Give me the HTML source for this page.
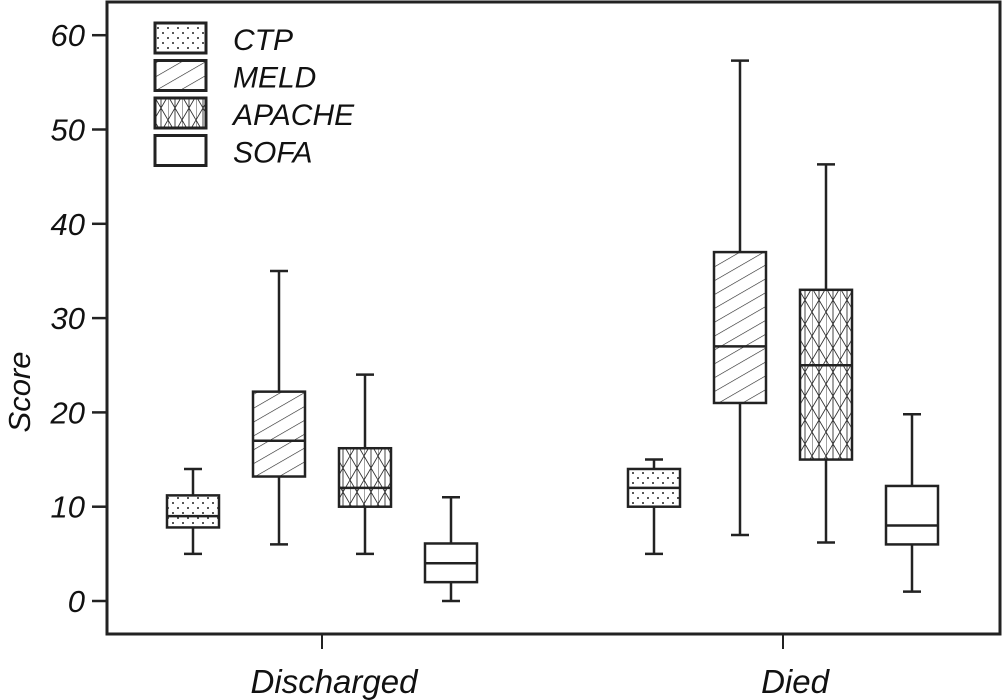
<!DOCTYPE html>
<html><head><meta charset="utf-8"><style>
html,body{margin:0;padding:0;background:#fff}
svg{display:block}
text{font-family:"Liberation Sans",sans-serif;font-style:italic;fill:#111}
</style></head><body>
<svg id="chart" width="1002" height="700" xmlns="http://www.w3.org/2000/svg">
<defs>
<pattern id="pDots" width="10" height="10" patternUnits="userSpaceOnUse"><rect width="10" height="10" fill="#fff"/><circle cx="3" cy="3" r="1" fill="#222"/><circle cx="8" cy="8" r="1" fill="#222"/></pattern>
<pattern id="pDiag" width="12" height="12" patternUnits="userSpaceOnUse" patternTransform="rotate(-30)"><rect width="12" height="12" fill="#fff"/><line x1="0" y1="0" x2="12" y2="0" stroke="#222" stroke-width="1.2"/></pattern>
<pattern id="pCross" width="14" height="24" patternUnits="userSpaceOnUse"><rect width="14" height="24" fill="#fff"/><path d="M0 0L14 24M14 0L0 24M7 0V24M0 0V24" stroke="#333" stroke-width="0.9" fill="none"/></pattern>
</defs>
<g id="plot"></g>
</svg>
<script>
const groups = ["Discharged","Died"];
const series = ["CTP","MELD","APACHE","SOFA"];
const whiskerLow  = [[5,6,5,0],[5,7,6.2,1]];
const q1          = [[7.8,13.2,10,2],[10,21,15,6]];
const medians     = [[9,17,12,4],[12,27,25,8]];
const q3          = [[11.2,22.2,16.2,6.1],[14,37,33,12.2]];
const whiskerHigh = [[14,35,24,11],[15,57.3,46.3,19.8]];
const yTicks = [0,10,20,30,40,50,60];

const NS="http://www.w3.org/2000/svg";
const fills=["url(#pDots)","url(#pDiag)","url(#pCross)","#fff"];
const L=107,R=1000,T=2,B=634;
function y(v){return 601 - v*9.43;}
const groupCenters=[322,783];
function x(g,s){return groupCenters[g] + (s-1.5)*86;}
const g=document.getElementById('plot');
function mk(tag,attrs,parent){const e=document.createElementNS(NS,tag);for(const k in attrs)e.setAttribute(k,attrs[k]);(parent||g).appendChild(e);return e;}

const frame=mk('rect',{x:L,y:T,width:R-L,height:B-T,fill:'none',stroke:'#222','stroke-width':3});



yTicks.forEach(v=>{
  const t=mk('line',{x1:92,x2:L,y1:y(v),y2:y(v),stroke:'#222','stroke-width':2.5});
  
  
  const lb=mk('text',{x:85,y:y(v)+11,'text-anchor':'end','font-size':31});
  lb.textContent=v;
  
  
});
const yt=mk('text',{x:0,y:0,'font-size':31,'text-anchor':'middle',transform:'translate(30,392) rotate(-90)'});
yt.textContent='Score';



groups.forEach((name,gi)=>{
  const cx=groupCenters[gi];
  const t=mk('line',{x1:cx,x2:cx,y1:B,y2:649,stroke:'#222','stroke-width':2});
  
  
  const lb=mk('text',{x:cx+12,y:693,'text-anchor':'middle','font-size':33});
  lb.textContent=name;
  
  
  series.forEach((s,si)=>{
    const bx=x(gi,si),w=52;
    const bg=mk('g',{});
    
    
    const st={stroke:'#222','stroke-width':2.5};
    mk('line',Object.assign({x1:bx,x2:bx,y1:y(whiskerHigh[gi][si]),y2:y(q3[gi][si])},st),bg);
    mk('line',Object.assign({x1:bx,x2:bx,y1:y(q1[gi][si]),y2:y(whiskerLow[gi][si])},st),bg);
    mk('line',Object.assign({x1:bx-9,x2:bx+9,y1:y(whiskerHigh[gi][si]),y2:y(whiskerHigh[gi][si])},st),bg);
    mk('line',Object.assign({x1:bx-9,x2:bx+9,y1:y(whiskerLow[gi][si]),y2:y(whiskerLow[gi][si])},st),bg);
    mk('rect',Object.assign({x:bx-w/2,y:y(q3[gi][si]),width:w,height:y(q1[gi][si])-y(q3[gi][si]),fill:fills[si]},st),bg);
    mk('line',Object.assign({x1:bx-w/2,x2:bx+w/2,y1:y(medians[gi][si]),y2:y(medians[gi][si])},st),bg);
  });
});

series.forEach((s,si)=>{
  const ly=23+si*37.5;
  const lg=mk('g',{});
  
  
  mk('rect',{x:155,y:ly,width:51,height:30,fill:fills[si],stroke:'#222','stroke-width':3},lg);
  const tx=mk('text',{x:233,y:ly+27,'font-size':30},lg);
  tx.textContent=s;
});
</script>
</body></html>
